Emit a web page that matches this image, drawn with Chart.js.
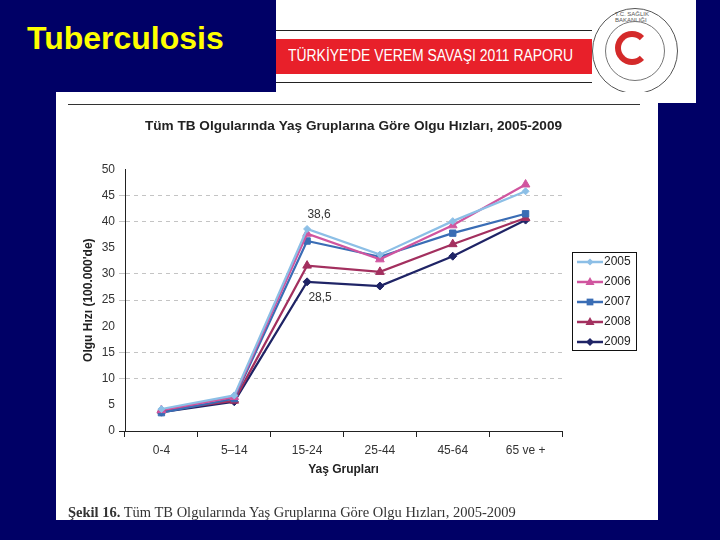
<!DOCTYPE html>
<html>
<head>
<meta charset="utf-8">
<script src="https://cdn.jsdelivr.net/npm/chart.js@4/dist/chart.umd.min.js"></script>
<style>
  html, body { margin: 0; padding: 0; }
  body { width: 720px; height: 540px; background: #000066; position: relative; overflow: hidden; font-family: "Liberation Sans", Arial, sans-serif; }
  #slideTitle { position: absolute; left: 27px; top: 20px; color: #ffff00; font-weight: bold; font-size: 32px; }
  #header { position: absolute; left: 276px; top: 0; width: 420px; height: 103px; background: #fff; }
  #band { position: absolute; left: 0; top: 39px; width: 316px; height: 35px; background: #e8202a; }
  #lineTop, #lineBot { position: absolute; left: 0; width: 316px; height: 1px; background: #222; }
  #lineTop { top: 30px; } #lineBot { top: 82px; }
  #bandText { position: absolute; left: 12px; top: 47px; color: #fff; font-size: 16px; white-space: nowrap; transform: scaleX(0.87); transform-origin: 0 0; }
  #logo { position: absolute; left: 316px; top: 8px; width: 86px; height: 86px; border-radius: 50%; border: 1px solid #555; box-sizing: border-box; }
  #logoIn { position: absolute; left: 12px; top: 12px; width: 60px; height: 60px; border-radius: 50%; border: 1px solid #777; box-sizing: border-box; }
  #logoRed { position: absolute; left: 9px; top: 9px; width: 34px; height: 34px; border-radius: 50%; border: 6px solid #d42a2a; border-right-color: transparent; box-sizing: border-box; }
  #logoTxt { position: absolute; left: 22px; top: 2px; font-size: 6px; color: #555; }
  #panel { position: absolute; left: 56px; top: 92px; width: 602px; height: 428px; background: #fff; }
  #chart { position: absolute; left: 0; top: 0; }
  #caption { position: absolute; left: 12px; top: 412px; font-family: "Liberation Serif", "DejaVu Serif", serif; font-size: 14.5px; color: #333; }
</style>
</head>
<body>
<div id="slideTitle">Tuberculosis</div>
<div id="header">
  <div id="lineTop"></div>
  <div id="band"></div>
  <div id="lineBot"></div>
  <div id="bandText">TÜRKİYE'DE VEREM SAVAŞI 2011 RAPORU</div>
  <div id="logo"><div id="logoTxt">T.C. SAĞLIK BAKANLIĞI</div><div id="logoIn"><div id="logoRed"></div></div></div>
</div>
<div id="panel">
  <canvas id="chart" width="602" height="428"></canvas>
  <div id="caption"><b>Şekil 16.</b> Tüm TB Olgularında Yaş Gruplarına Göre Olgu Hızları, 2005-2009</div>
</div>
<script>
var ageGroups = ['0-4', '5–14', '15-24', '25-44', '45-64', '65 ve +'];
var years = ['2005', '2006', '2007', '2008', '2009'];
var rate2005 = [4.2, 6.8, 38.6, 33.7, 40.1, 45.8];
var rate2006 = [4.0, 6.5, 37.7, 32.8, 39.3, 47.1];
var rate2007 = [3.5, 6.2, 36.3, 33.3, 37.8, 41.5];
var rate2008 = [3.9, 5.8, 31.6, 30.4, 35.7, 40.7];
var rate2009 = [3.6, 5.6, 28.5, 27.7, 33.4, 40.3];
var yTicks = [0, 5, 10, 15, 20, 25, 30, 35, 40, 45, 50];
var hiddenGrid = [5, 20, 35, 50];

var colors = ['#8cbfe6', '#d0559f', '#3a6db5', '#a3305f', '#1f2466'];
var styles = ['rectRot', 'triangle', 'rect', 'triangle', 'rectRot'];
var radii = [3.5, 5, 4.5, 5, 4];
var series = [rate2005, rate2006, rate2007, rate2008, rate2009];

var datasets = years.map(function (y, i) {
    return {
        label: y,
        data: series[i],
        borderColor: colors[i],
        backgroundColor: colors[i],
        borderWidth: 2.2,
        pointStyle: styles[i],
        pointRadius: radii[i],
        pointBorderWidth: 1,
        tension: 0
    };
});

function marker(ctx, style, x, y, r) {
    ctx.beginPath();
    if (style === 'triangle') {
        ctx.moveTo(x, y - r);
        ctx.lineTo(x + r * 0.9, y + r * 0.6);
        ctx.lineTo(x - r * 0.9, y + r * 0.6);
    } else if (style === 'rect') {
        ctx.rect(x - r * 0.75, y - r * 0.75, r * 1.5, r * 1.5);
    } else {
        ctx.moveTo(x, y - r);
        ctx.lineTo(x + r, y);
        ctx.lineTo(x, y + r);
        ctx.lineTo(x - r, y);
    }
    ctx.closePath();
    ctx.fill();
}

var extras = {
    id: 'extras',
    beforeDraw: function (chart) {
        var ctx = chart.ctx;
        ctx.save();
        ctx.strokeStyle = '#333';
        ctx.lineWidth = 1;
        ctx.beginPath();
        ctx.moveTo(12, 12.5);
        ctx.lineTo(584, 12.5);
        ctx.stroke();
        ctx.restore();
    },
    afterDraw: function (chart) {
        var ctx = chart.ctx;
        ctx.save();
        // value labels on 15-24
        ctx.font = '12px "Liberation Sans", Arial, sans-serif';
        ctx.fillStyle = '#333';
        ctx.textAlign = 'center';
        ctx.textBaseline = 'middle';
        var p = chart.getDatasetMeta(0).data[2];
        ctx.fillText(String(rate2005[2]).replace('.', ','), p.x + 12, p.y - 14);
        var q = chart.getDatasetMeta(4).data[2];
        ctx.fillText(String(rate2009[2]).replace('.', ','), q.x + 13, q.y + 16);
        // legend
        var lx = 516, ly = 160, lw = 64, lh = 98;
        ctx.strokeStyle = '#111';
        ctx.lineWidth = 1;
        ctx.strokeRect(lx + 0.5, ly + 0.5, lw, lh);
        ctx.textAlign = 'left';
        chart.data.datasets.forEach(function (ds, i) {
            var yy = ly + 10 + i * 20;
            ctx.strokeStyle = ds.borderColor;
            ctx.fillStyle = ds.borderColor;
            ctx.lineWidth = 2.5;
            ctx.beginPath();
            ctx.moveTo(lx + 5, yy);
            ctx.lineTo(lx + 31, yy);
            ctx.stroke();
            marker(ctx, ds.pointStyle, lx + 18, yy, ds.pointRadius);
            ctx.fillStyle = '#222';
            ctx.fillText(ds.label, lx + 32, yy);
        });
        ctx.restore();
    }
};

var ctx = document.getElementById('chart').getContext('2d');
var myChart = new Chart(ctx, {
    type: 'line',
    data: { labels: ageGroups, datasets: datasets },
    plugins: [extras],
    options: {
        responsive: false,
        animation: false,
        layout: { padding: { left: 21, right: 96, top: 26, bottom: 39 } },
        plugins: {
            legend: { display: false },
            tooltip: { enabled: false },
            title: {
                display: true,
                align: 'end',
                text: 'Tüm TB Olgularında Yaş Gruplarına Göre Olgu Hızları, 2005-2009',
                color: '#222',
                font: { family: '"Liberation Sans", Arial, sans-serif', size: 13.6, weight: 'bold' },
                padding: { top: 0, bottom: 35 }
            }
        },
        scales: {
            x: {
                offset: true,
                afterFit: function (s) { s.height = 50; },
                grid: { offset: true, drawOnChartArea: false, color: '#222', tickLength: 6 },
                border: { color: '#222', width: 1 },
                ticks: { color: '#333', padding: 6, font: { family: '"Liberation Sans", Arial, sans-serif', size: 12 } },
                title: { display: true, text: 'Yaş Grupları', color: '#222', padding: { top: 4 },
                    font: { family: '"Liberation Sans", Arial, sans-serif', size: 12, weight: 'bold' } }
            },
            y: {
                min: 0,
                max: 50,
                afterFit: function (s) { s.width = 48; },
                afterBuildTicks: function (s) { s.ticks = yTicks.map(function (v) { return { value: v }; }); },
                grid: {
                    color: function (c) {
                        if (c.tick.value === 0) return '#222';
                        return hiddenGrid.indexOf(c.tick.value) >= 0 ? 'rgba(0,0,0,0)' : '#c4c4c4';
                    },
                    tickLength: 6
                },
                border: { color: '#222', width: 1, dash: [4, 4] },
                ticks: { color: '#333', padding: 4, font: { family: '"Liberation Sans", Arial, sans-serif', size: 12 } },
                title: { display: true, text: "Olgu Hızı (100.000'de)", color: '#222', padding: { bottom: 2 },
                    font: { family: '"Liberation Sans", Arial, sans-serif', size: 12, weight: 'bold' } }
            }
        }
    }
});
</script>
</body>
</html>
